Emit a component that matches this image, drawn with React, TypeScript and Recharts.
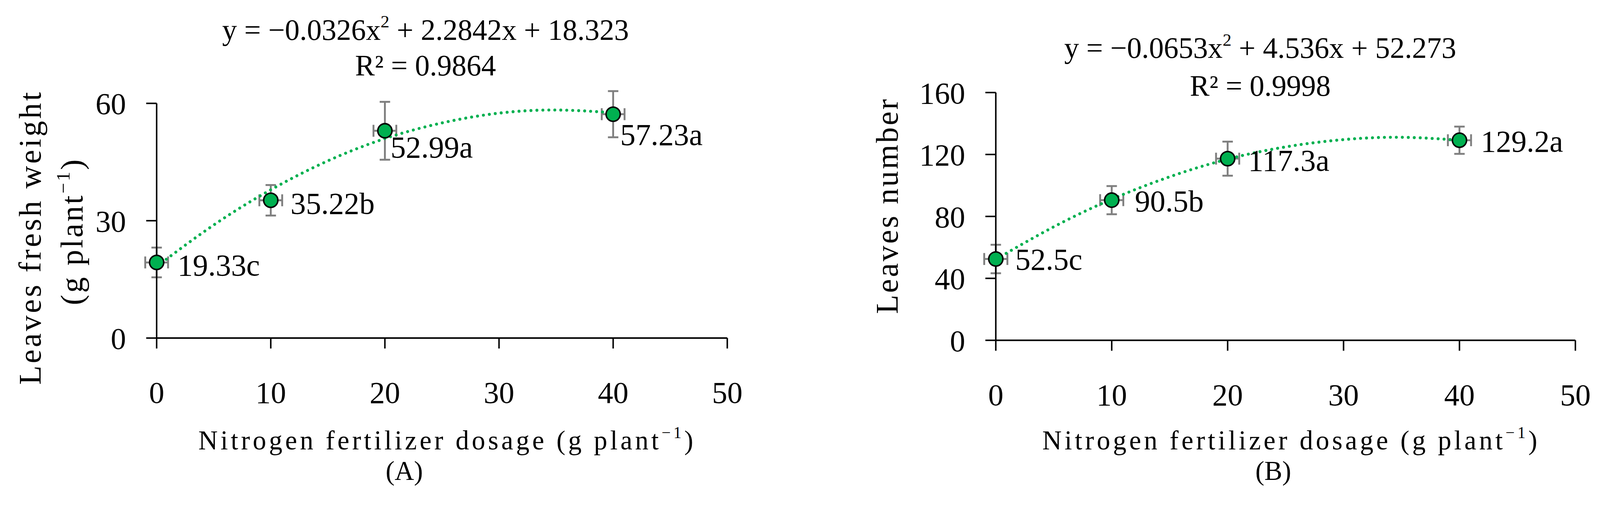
import React from "react";
import { ComposedChart, XAxis, YAxis, Scatter, Line, ErrorBar } from "recharts";

// nitrogen dosage (g plant-1) and the means
const doses = [0, 10, 20, 40];
const doseErr = [1, 1, 1, 1];

const freshWeight = [19.33, 35.22, 52.99, 57.23];
const freshWeightErr = [3.8, 3.9, 7.4, 5.9];
const freshWeightLabels = ["19.33c", "35.22b", "52.99a", "57.23a"];

const leaves = [52.5, 90.5, 117.3, 129.2];
const leavesErr = [9.2, 9.1, 11, 8.8];
const leavesLabels = ["52.5c", "90.5b", "117.3a", "129.2a"];

// dotted trend curves
const trendDoses = [0, 5, 10, 15, 20, 25, 30, 35, 40];
const freshWeightTrend = [18.3, 28.9, 37.9, 45.3, 51.0, 55.0, 57.5, 58.3, 57.6];
const leavesTrend = [52.3, 73.3, 91.1, 105.6, 117.0, 124.9, 129.6, 131.1, 129.2];

const xTicks = [0, 10, 20, 30, 40, 50];
const freshWeightTicks = [0, 30, 60];
const leavesTicks = [0, 40, 80, 120, 160];

const W = 4290;
const H = 1305;
const GREEN = "#00B050";
const FONT = "'Liberation Serif', 'Times New Roman', serif";
const FS = 82;
const X_AXIS_H = 170;

const buildPoints = (ys: number[], yErr: number[], labels: string[]) =>
    doses.map((x, i) => ({ i, x, y: ys[i], ey: yErr[i], ex: doseErr[i], label: labels[i] }));

const buildTrend = (ys: number[]) => trendDoses.map((x, i) => ({ x, y: ys[i] }));

const makeDot = (shifts: number[][]) => (p: any) => {
    const [dx, dy] = shifts[p.payload.i];
    return (
        <g>
            <circle cx={p.cx} cy={p.cy} r={19} fill={GREEN} stroke="#000" strokeWidth={4} />
            <text x={p.cx + dx} y={p.cy + dy} fontSize={FS} fontFamily={FONT} fill="#000">
                {p.payload.label}
            </text>
        </g>
    );
};

type PanelProps = {
    left: number;
    width: number;
    yWidth: number;
    top: number;
    right: number;
    axisY: number;
    yMax: number;
    yTicks: number[];
    points: any[];
    trend: any[];
    shifts: number[][];
};

function Panel(props: PanelProps) {
    const { left, width, yWidth, top, right, axisY, yMax, yTicks, points, trend, shifts } = props;
    const tick = { fill: "#000", fontSize: FS, fontFamily: FONT };
    const axisLine = { stroke: "#000", strokeWidth: 4 };
    return (
        <div style={{ position: "absolute", left, top: 0 }}>
            <ComposedChart width={width} height={H} margin={{ top, right, bottom: H - axisY - X_AXIS_H, left: 0 }}>
                <XAxis
                    type="number"
                    dataKey="x"
                    domain={[0, 50]}
                    ticks={xTicks}
                    allowDataOverflow
                    height={X_AXIS_H}
                    tick={tick}
                    axisLine={axisLine}
                    tickLine={axisLine}
                    tickSize={28}
                    tickMargin={88}
                    interval={0}
                />
                <YAxis
                    type="number"
                    dataKey="y"
                    domain={[0, yMax]}
                    ticks={yTicks}
                    allowDataOverflow
                    width={yWidth}
                    tick={tick}
                    axisLine={axisLine}
                    tickLine={axisLine}
                    tickSize={28}
                    tickMargin={54}
                    interval={0}
                />
                {/* unclipped twin axes so the markers at x = 0 stay whole */}
                <XAxis xAxisId="u" type="number" dataKey="x" domain={[0, 50]} hide />
                <YAxis yAxisId="u" type="number" dataKey="y" domain={[0, yMax]} hide />
                <Scatter data={points} shape={() => <g />} isAnimationActive={false}>
                    <ErrorBar dataKey="ey" direction="y" width={14} stroke="#7F7F7F" strokeWidth={5} isAnimationActive={false} />
                    <ErrorBar dataKey="ex" direction="x" width={16} stroke="#7F7F7F" strokeWidth={5} isAnimationActive={false} />
                </Scatter>
                <Line
                    data={trend}
                    dataKey="y"
                    type="natural"
                    stroke={GREEN}
                    strokeWidth={8}
                    strokeLinecap="round"
                    strokeDasharray="0.01 16"
                    dot={false}
                    activeDot={false}
                    isAnimationActive={false}
                />
                <Scatter
                    data={points}
                    xAxisId="u"
                    yAxisId="u"
                    shape={makeDot(shifts)}
                    isAnimationActive={false}
                />
            </ComposedChart>
        </div>
    );
}

const Txt = ({ x, y, size = FS, spacing = 0, rotate = false, children }: any) => (
    <div
        style={{
            position: "absolute",
            left: x,
            top: y,
            transform: `translate(-50%, -50%)${rotate ? " rotate(-90deg)" : ""}`,
            whiteSpace: "nowrap",
            lineHeight: 0.8,
            fontSize: size,
            letterSpacing: spacing,
            fontFamily: FONT,
            color: "#000",
        }}
    >
        {children}
    </div>
);

// one line placed by its baseline (line-height 0.9 puts the baseline 0.787em below the top)
const Caption = ({ x, baseline, size = 72, spacing = 0, children }: any) => (
    <div
        style={{
            position: "absolute",
            left: x,
            top: baseline - 0.787 * size,
            transform: "translateX(-50%)",
            whiteSpace: "nowrap",
            lineHeight: 0.9,
            fontSize: size,
            letterSpacing: spacing,
            fontFamily: FONT,
            color: "#000",
        }}
    >
        {children}
    </div>
);

const Sup = ({ children }: any) => (
    <span style={{ fontSize: "0.6em", position: "relative", top: "-0.7em", verticalAlign: "baseline", lineHeight: 0 }}>
        {children}
    </span>
);

export default function App() {
    // fit the 4290-wide drawing to the viewport the page actually gets (same factor both ways)
    const s = typeof window !== "undefined" && window.innerWidth ? window.innerWidth / W : 1;
    return (
        <div
            style={{
                position: "absolute",
                left: 0,
                top: 0,
                width: W,
                height: H,
                background: "#fff",
                overflow: "hidden",
                transformOrigin: "0 0",
                transform: `scale(${s})`,
            }}
        >
            <Panel
                left={0}
                width={2100}
                yWidth={420}
                top={277}
                right={150}
                axisY={906}
                yMax={60}
                yTicks={freshWeightTicks}
                points={buildPoints(freshWeight, freshWeightErr, freshWeightLabels)}
                trend={buildTrend(freshWeightTrend)}
                shifts={[[56, 35], [53, 36], [15, 72], [19, 83]]}
            />
            <Panel
                left={2150}
                width={2140}
                yWidth={520}
                top={248}
                right={66}
                axisY={912}
                yMax={160}
                yTicks={leavesTicks}
                points={buildPoints(leaves, leavesErr, leavesLabels)}
                trend={buildTrend(leavesTrend)}
                shifts={[[52, 29], [62, 30], [55, 32], [57, 31]]}
            />

            <Txt x={1141} y={80} size={79}>
                y = −0.0326x<Sup>2</Sup> + 2.2842x + 18.323
            </Txt>
            <Txt x={1141} y={176} size={79}>R² = 0.9864</Txt>
            <Txt x={81} y={636} size={84} spacing={6} rotate>Leaves fresh weight</Txt>
            <Txt x={193} y={620} size={84} spacing={5} rotate>
                (g plant<Sup>−1</Sup>)
            </Txt>
            <Caption x={1199} baseline={1205} spacing={7.5}>
                Nitrogen fertilizer dosage (g plant<Sup>−1</Sup>)
            </Caption>
            <Caption x={1084} baseline={1287}>(A)</Caption>

            <Txt x={3379} y={129} size={79}>
                y = −0.0653x<Sup>2</Sup> + 4.536x + 52.273
            </Txt>
            <Txt x={3379} y={230} size={79}>R² = 0.9998</Txt>
            <Txt x={2378} y={551} size={84} spacing={5} rotate>Leaves number</Txt>
            <Caption x={3462} baseline={1205} spacing={7.5}>
                Nitrogen fertilizer dosage (g plant<Sup>−1</Sup>)
            </Caption>
            <Caption x={3414} baseline={1287}>(B)</Caption>
        </div>
    );
}
